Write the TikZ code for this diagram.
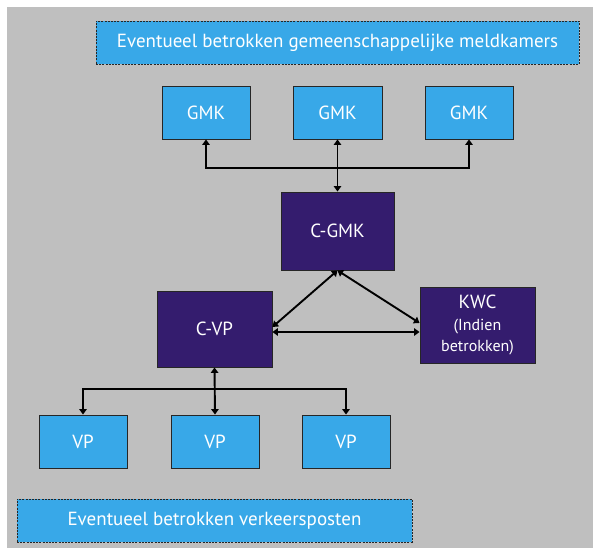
\documentclass[tikz,border=0pt]{standalone}
\usepackage{fontspec}
\setmainfont{PT Sans}
\usetikzlibrary{arrows.meta}
\definecolor{bggrey}{HTML}{BFBFBF}
\definecolor{lblue}{HTML}{38A8E8}
\definecolor{dpurple}{HTML}{341C6E}
\tikzset{
  lbox/.style={draw=black!85, line width=0.9pt, fill=lblue, text=white, inner sep=0pt, font=\fontsize{19}{21}\selectfont},
  dbox/.style={draw=black!85, line width=0.9pt, fill=dpurple, text=white, inner sep=0pt, font=\fontsize{19}{21}\selectfont},
  banner/.style={draw=black!85, dashed, dash pattern=on 2pt off 1.2pt, line width=0.8pt, fill=lblue, text=white, inner sep=0pt, font=\fontsize{19}{21}\selectfont},
  conn/.style={line width=1.9pt, black, {Triangle[length=5.5pt,width=7.5pt]}-{Triangle[length=5.5pt,width=7.5pt]}},
}
\begin{document}
\begin{tikzpicture}[x=1pt,y=-1pt]
\useasboundingbox (0,0) rectangle (593,548);
\fill[white] (0,0) rectangle (593,548);
\fill[bggrey] (7,7) rectangle (593,548);
% banners
\node[banner, minimum width=483pt, minimum height=43pt] (topban) at (337.5,42.5) {Eventueel betrokken gemeenschappelijke meldkamers};
\node[banner, minimum width=395pt, minimum height=43pt] (botban) at (214.5,520.5) {Eventueel betrokken verkeersposten};
% GMK
\node[lbox, minimum width=88pt, minimum height=53pt] (gmk1) at (206,112.5) {GMK};
\node[lbox, minimum width=89pt, minimum height=53pt] (gmk2) at (337.5,112.5) {GMK};
\node[lbox, minimum width=88pt, minimum height=53pt] (gmk3) at (469,112.5) {GMK};
% central
\node[dbox, minimum width=113pt, minimum height=78pt] (cgmk) at (337.5,231) {C-GMK};
\node[dbox, minimum width=115pt, minimum height=76pt] (cvp) at (214.5,329) {C-VP};
\node[dbox, minimum width=115pt, minimum height=76pt, align=center] (kwc) at (477.5,325) {KWC\\[1pt]{\fontsize{16}{20}\selectfont (Indien}\\{\fontsize{16}{20}\selectfont betrokken)}};
% VP
\node[lbox, minimum width=88pt, minimum height=53pt] (vp1) at (83,441.5) {VP};
\node[lbox, minimum width=88pt, minimum height=53pt] (vp2) at (215,441.5) {VP};
\node[lbox, minimum width=88pt, minimum height=53pt] (vp3) at (346,441.5) {VP};
% connectors top
\coordinate (hubA) at (337.5,168);
\draw[conn] (gmk1.south) |- (hubA) -| (gmk3.south);
\draw[conn] (gmk2.south) -- (cgmk.north);
% triangle
\draw[conn] (cgmk.south) -- ([yshift=2pt]cvp.east);
\draw[conn] (cgmk.south) -- ([yshift=2pt]kwc.west);
\draw[conn] ([yshift=-3pt]cvp.east) -- (kwc.west |- 0,332);
% connectors bottom
\coordinate (hubB) at (215,389);
\draw[conn] (vp1.north) |- (hubB) -| (vp3.north);
\draw[conn] (cvp.south) -- (vp2.north);
\end{tikzpicture}
\end{document}
